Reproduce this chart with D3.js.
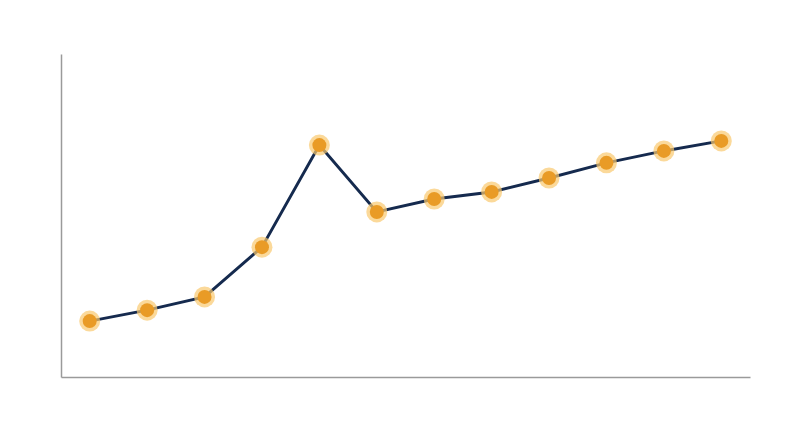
<!DOCTYPE html>
<html>
<head>
<meta charset="utf-8">
<script src="https://cdn.jsdelivr.net/npm/d3@7"></script>
<style>
  html, body { margin: 0; padding: 0; background: #fff; }
  svg { display: block; }
</style>
</head>
<body>
<svg></svg>
<script>
const width = 800;
const height = 447;

const margin = { top: 54, right: 50, bottom: 70, left: 61 };

// datos
const categories = ["1", "2", "3", "4", "5", "6", "7", "8", "9", "10", "11", "12"];
const values = [1.73, 2.07, 2.48, 4.02, 7.18, 5.11, 5.51, 5.73, 6.16, 6.63, 7.0, 7.31];
const yDomain = [0, 10];

const data = categories.map((c, i) => ({ cat: c, val: values[i] }));

const svg = d3.select("svg").attr("width", width).attr("height", height);

const x = d3
  .scalePoint()
  .domain(categories)
  .range([margin.left, width - margin.right])
  .padding(0.5);

const y = d3
  .scaleLinear()
  .domain(yDomain)
  .range([height - margin.bottom, margin.top]);

// ejes sin marcas
svg
  .append("g")
  .attr("transform", `translate(0,${height - margin.bottom})`)
  .call(d3.axisBottom(x).tickSize(0).tickFormat(""))
  .call((g) => g.select(".domain").attr("stroke", "#9a9a9a").attr("stroke-width", 1.5));

svg
  .append("g")
  .attr("transform", `translate(${margin.left},0)`)
  .call(d3.axisLeft(y).tickSize(0).tickFormat(""))
  .call((g) => g.select(".domain").attr("stroke", "#9a9a9a").attr("stroke-width", 1.5));

// linea
const line = d3
  .line()
  .x((d) => x(d.cat))
  .y((d) => y(d.val));

svg
  .append("path")
  .datum(data)
  .attr("fill", "none")
  .attr("stroke", "#152a4e")
  .attr("stroke-width", 3)
  .attr("d", line);

// puntos con halo
const pts = svg.append("g").selectAll("g").data(data).enter().append("g");

pts
  .append("circle")
  .attr("cx", (d) => x(d.cat))
  .attr("cy", (d) => y(d.val))
  .attr("r", 10.5)
  .attr("fill", "#f9c96f")
  .attr("opacity", 0.7);

pts
  .append("circle")
  .attr("cx", (d) => x(d.cat))
  .attr("cy", (d) => y(d.val))
  .attr("r", 7)
  .attr("fill", "#e99b26");
</script>
</body>
</html>
